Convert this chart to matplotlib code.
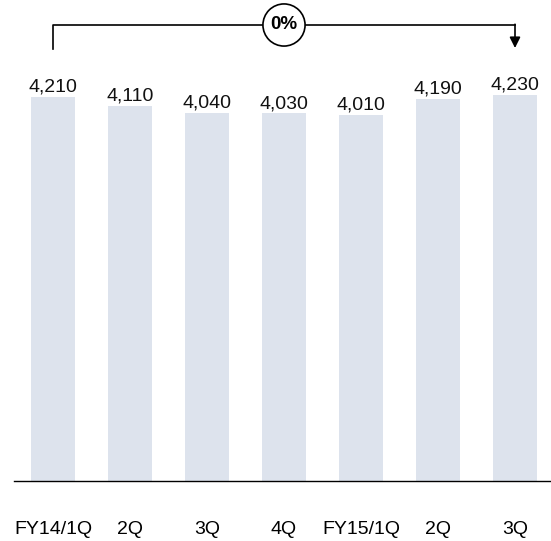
import numpy as np
import matplotlib
matplotlib.use("Agg")
import matplotlib.pyplot as plt

plt.rcParams['font.family'] = ['Liberation Sans', 'DejaVu Sans']

# data
quarters = ['FY14/1Q', '2Q', '3Q', '4Q', 'FY15/1Q', '2Q', '3Q']
values = [4210, 4110, 4040, 4030, 4010, 4190, 4230]
change_label = '0%'

bar_color = '#dde3ed'

# pixel layout: bar pitch 77 px, first bar centre at x=53, baseline at y=481
W, H = 551, 541
pitch = 77.0
y_scale = 384.0 / 4210  # px per unit

fig = plt.figure(figsize=(W / 100, H / 100), dpi=100)
ax = fig.add_axes([14 / W, 60 / H, (W - 14) / W, 481 / H])

x = np.arange(len(values))
ax.bar(x, values, width=0.57, color=bar_color, zorder=2)

for xi, v in zip(x, values):
    ax.annotate(f'{v:,}', (xi, v), xytext=(0, 1), textcoords='offset points',
                ha='center', va='bottom', fontsize=14, color='#111111')

ax.set_xlim(-(53 - 14) / pitch, -(53 - 14) / pitch + (W - 14) / pitch)
ax.set_ylim(0, 481 / y_scale)

for s in ['top', 'right', 'left']:
    ax.spines[s].set_visible(False)
ax.spines['bottom'].set_linewidth(1.0)
ax.set_yticks([])
ax.set_xticks(x)
ax.set_xticklabels(quarters, fontsize=14)
ax.tick_params(axis='x', length=0, pad=29)

# bracket from first to last bar
y_top = (481 - 25) / y_scale
y_left = (481 - 49) / y_scale
y_tip = (481 - 48) / y_scale
ax.plot([x[0], x[0], x[-1]], [y_left, y_top, y_top], color='black', lw=1.2,
        clip_on=False, zorder=3)
ax.annotate('', xy=(x[-1], y_tip), xytext=(x[-1], y_top + 8),
            arrowprops=dict(arrowstyle='-|>', color='black', lw=1.2,
                            mutation_scale=16, shrinkA=0, shrinkB=0),
            annotation_clip=False)
ax.text((x[0] + x[-1]) / 2, y_top, change_label, ha='center', va='center',
        fontsize=13.5, fontweight='bold', zorder=4,
        bbox=dict(boxstyle='circle,pad=0.4', fc='white', ec='black', lw=1.2))

fig.savefig('out.png', dpi=100)
